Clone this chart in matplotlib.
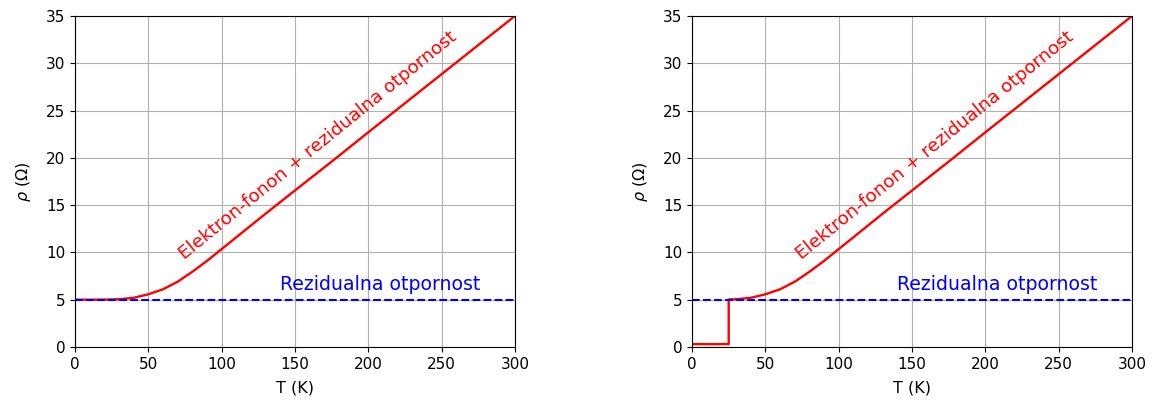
import matplotlib
matplotlib.use("Agg")
import matplotlib.pyplot as plt

# Normal-state resistivity
T_vals = [0, 10, 20, 30, 40, 50, 60, 70, 80, 90, 100, 110, 120, 130,
          150, 175, 200, 250, 300]
rho_vals = [5.0, 5.0, 5.01, 5.05, 5.2, 5.57, 6.1, 6.9, 7.95, 9.1, 10.35, 11.6, 12.85, 14.1,
            16.55, 19.6, 22.7, 28.85, 35.0]

# Superconducting branch (right panel)
Tc = 25
rho_Tc = 5.03
rho_sc = 0.3
rho_residual = 5.0

xticks = [0, 50, 100, 150, 200, 250, 300]
yticks = [0, 5, 10, 15, 20, 25, 30, 35]

fig = plt.figure(figsize=(11.53, 4.03), dpi=100)
ax1 = fig.add_axes([0.065, 0.139, 0.3816, 0.8213])
ax2 = fig.add_axes([0.6002, 0.139, 0.3816, 0.8213])

for i, ax in enumerate([ax1, ax2]):
    if i == 0:
        ax.plot(T_vals, rho_vals, color='red', lw=1.7)
    else:
        Ts = [Tc] + [t for t in T_vals if t > Tc]
        rs = [rho_Tc] + [r for t, r in zip(T_vals, rho_vals) if t > Tc]
        ax.plot([0, Tc] + Ts, [rho_sc, rho_sc] + rs, color='red', lw=1.7)
    ax.axhline(rho_residual, color='blue', ls='--', lw=1.5)
    ax.text(140, 6.0, 'Rezidualna otpornost', color='blue', fontsize=13.6,
            ha='left', va='baseline')
    ax.text(74.5, 9.2, 'Elektron-fonon + rezidualna otpornost', color='red', fontsize=13.2,
            rotation=39, rotation_mode='anchor', ha='left', va='baseline')
    ax.set_xlim(0, 300)
    ax.set_ylim(0, 35)
    ax.set_xticks(xticks)
    ax.set_yticks(yticks)
    ax.tick_params(labelsize=11)
    ax.grid(True)
    ax.set_xlabel('T (K)', fontsize=11.5, labelpad=6)
    ax.set_ylabel(r'$\rho$ ($\Omega$)', fontsize=11.5, labelpad=9)

fig.savefig('out.png', dpi=100)
